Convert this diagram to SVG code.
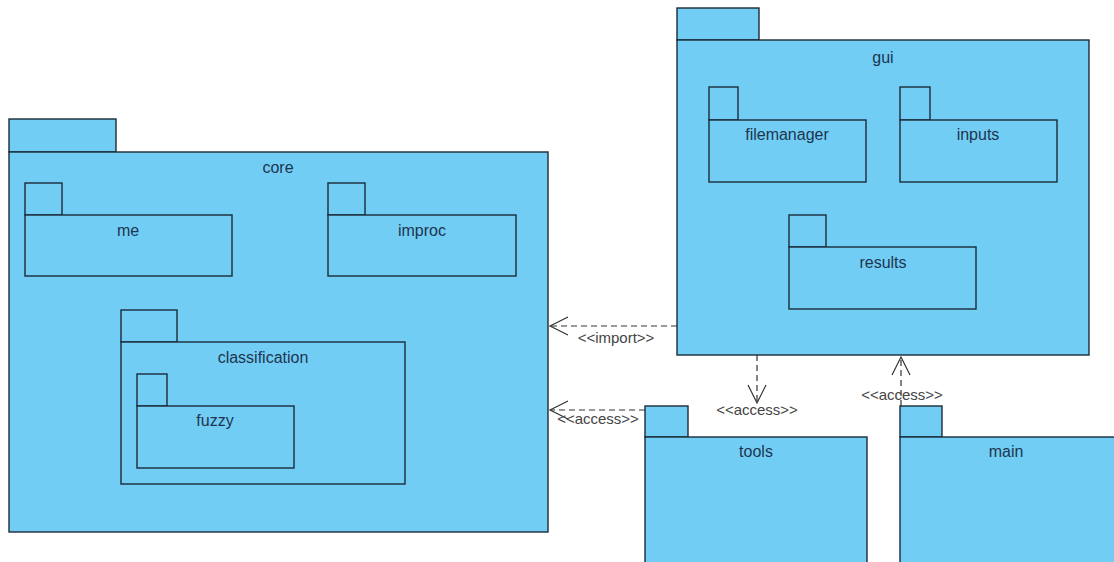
<svg xmlns="http://www.w3.org/2000/svg" width="1114" height="562" viewBox="0 0 1114 562">
<style>
.p{fill:#72CDF4;stroke:#1c2b3a;stroke-width:1.4}
.t{font-family:"Liberation Sans",Arial,sans-serif;font-size:16px;fill:#1d3550;text-anchor:middle}
.l{font-family:"Liberation Sans",Arial,sans-serif;font-size:15px;fill:#444;text-anchor:middle}
.c{fill:none;stroke:#333;stroke-width:1.2;stroke-dasharray:6,4}
.h{fill:none;stroke:#333;stroke-width:1.2}
</style>
<rect width="1114" height="562" fill="#fff"/>
<g id="core">
<rect class="p" x="9" y="119" width="107" height="33"/>
<rect class="p" x="9" y="152" width="539" height="380"/>
<text class="t" x="278" y="173">core</text>
</g>
<g id="me">
<rect class="p" x="25" y="183" width="37" height="32"/>
<rect class="p" x="25" y="215" width="207" height="61"/>
<text class="t" x="128" y="236">me</text>
</g>
<g id="improc">
<rect class="p" x="328" y="183" width="37" height="32"/>
<rect class="p" x="328" y="215" width="188" height="61"/>
<text class="t" x="422" y="236">improc</text>
</g>
<g id="classification">
<rect class="p" x="121" y="310" width="56" height="32"/>
<rect class="p" x="121" y="342" width="284" height="142"/>
<text class="t" x="263" y="363">classification</text>
</g>
<g id="fuzzy">
<rect class="p" x="137" y="374" width="30" height="32"/>
<rect class="p" x="137" y="406" width="157" height="62"/>
<text class="t" x="215" y="426">fuzzy</text>
</g>
<g id="gui">
<rect class="p" x="677" y="8" width="82" height="32"/>
<rect class="p" x="677" y="40" width="412" height="315"/>
<text class="t" x="883" y="63">gui</text>
</g>
<g id="filemanager">
<rect class="p" x="709" y="87" width="29" height="33"/>
<rect class="p" x="709" y="120" width="157" height="62"/>
<text class="t" x="787" y="140">filemanager</text>
</g>
<g id="inputs">
<rect class="p" x="900" y="87" width="30" height="33"/>
<rect class="p" x="900" y="120" width="157" height="62"/>
<text class="t" x="978" y="140">inputs</text>
</g>
<g id="results">
<rect class="p" x="789" y="215" width="37" height="32"/>
<rect class="p" x="789" y="247" width="187" height="62"/>
<text class="t" x="883" y="268">results</text>
</g>
<g id="tools">
<rect class="p" x="645" y="406" width="43" height="31"/>
<rect class="p" x="645" y="437" width="222" height="140"/>
<text class="t" x="756" y="457">tools</text>
</g>
<g id="main">
<rect class="p" x="900" y="406" width="42" height="31"/>
<rect class="p" x="900" y="437" width="220" height="140"/>
<text class="t" x="1006" y="457">main</text>
</g>
<g id="connectors">
<line class="c" x1="677" y1="326" x2="550" y2="326"/>
<polyline class="h" points="568,317 550,326 568,335"/>
<text class="l" x="616" y="343">&lt;&lt;import&gt;&gt;</text>
<line class="c" x1="645" y1="410" x2="550" y2="410"/>
<polyline class="h" points="568,401 550,410 568,419"/>
<text class="l" x="598" y="424">&lt;&lt;access&gt;&gt;</text>
<line class="c" x1="757" y1="355" x2="757" y2="403"/>
<polyline class="h" points="748,385 757,403 766,385"/>
<text class="l" x="757" y="415">&lt;&lt;access&gt;&gt;</text>
<line class="c" x1="901" y1="406" x2="901" y2="357"/>
<polyline class="h" points="892,375 901,357 910,375"/>
<text class="l" x="902" y="400">&lt;&lt;access&gt;&gt;</text>
</g>
</svg>
